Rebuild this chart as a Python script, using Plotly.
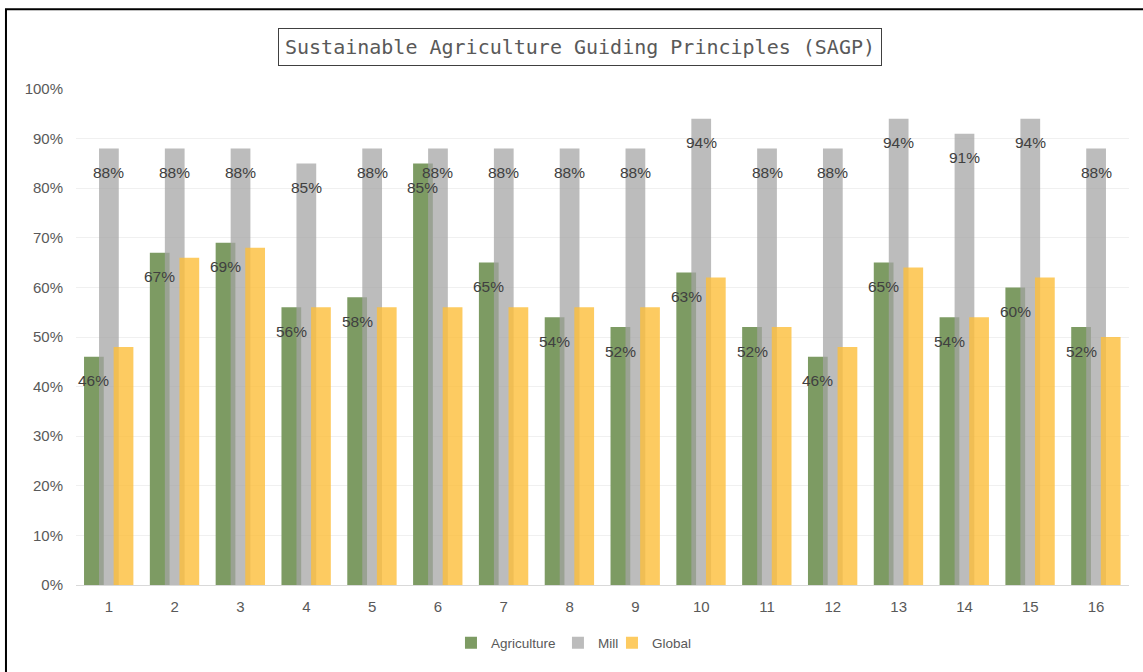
import plotly.graph_objects as go

categories = [str(i) for i in range(1, 17)]
agriculture = [46, 67, 69, 56, 58, 85, 65, 54, 52, 63, 52, 46, 65, 54, 60, 52]
mill = [88, 88, 88, 85, 88, 88, 88, 88, 88, 94, 88, 88, 94, 91, 94, 88]
global_ = [48, 66, 68, 56, 56, 56, 56, 56, 56, 62, 52, 48, 64, 54, 62, 50]

xpos = list(range(1, len(categories) + 1))
W = 0.30
shifts = {"Agriculture": -0.228, "Mill": 0.0, "Global": 0.222}
colors = {
    "Agriculture": "rgba(125,155,99,1)",
    "Mill": "rgba(165,165,165,0.74)",
    "Global": "rgba(253,190,57,0.8)",
}
legend_ids = {"Agriculture": "legend", "Mill": "legend2", "Global": "legend3"}
legend_x = {"legend": 0.3561, "legend2": 0.4577, "legend3": 0.5090}

fig = go.Figure()
for name, vals in [("Agriculture", agriculture), ("Mill", mill), ("Global", global_)]:
    fig.add_trace(go.Bar(
        x=xpos, y=vals, name=name, width=W, offset=shifts[name] - W / 2,
        marker=dict(color=colors[name], line=dict(width=0)),
        hoverinfo="skip", legend=legend_ids[name],
    ))

annotations = []
for name, vals in [("Agriculture", agriculture), ("Mill", mill)]:
    for x, v in zip(xpos, vals):
        annotations.append(dict(
            x=x + shifts[name], y=v, xref="x", yref="y", text=f"{v}%",
            showarrow=False, yshift=-24,
            font=dict(family="Liberation Sans, Arial", size=15.5, color="#404040"),
        ))

annotations.append(dict(
    x=0.4786, y=1.085, xref="paper", yref="paper", xanchor="center", yanchor="middle",
    text="Sustainable Agriculture Guiding Principles (SAGP)", showarrow=False,
    font=dict(family="DejaVu Sans Mono", size=20, color="#595959"),
    bordercolor="#404040", borderwidth=1, borderpad=6, bgcolor="white",
))

legend_common = dict(orientation="h", xanchor="left", y=-0.117, yanchor="middle",
                     font=dict(family="Liberation Sans, Arial", size=13.5, color="#595959"),
                     itemwidth=30, bgcolor="rgba(0,0,0,0)")

fig.update_layout(
    width=1143, height=672,
    margin=dict(l=76, r=14, t=89, b=87),
    paper_bgcolor="white", plot_bgcolor="white",
    barmode="overlay",
    showlegend=True,
    legend=dict(x=legend_x["legend"], **legend_common),
    legend2=dict(x=legend_x["legend2"], **legend_common),
    legend3=dict(x=legend_x["legend3"], **legend_common),
    annotations=annotations,
    shapes=[dict(type="rect", xref="paper", yref="paper",
                 x0=-0.0665, x1=1.03, y0=-0.3, y1=1.161,
                 line=dict(color="black", width=2), layer="above")],
    xaxis=dict(
        range=[0.5, 16.5], tickvals=xpos, ticktext=categories,
        showgrid=False, zeroline=False, showline=True, linecolor="#d9d9d9", linewidth=1,
        ticks="", ticklabelstandoff=8,
        tickfont=dict(family="Liberation Sans, Arial", size=15, color="#595959"),
    ),
    yaxis=dict(
        range=[0, 100], dtick=10, ticksuffix="%", showgrid=True, gridcolor="#f0f0f0",
        zeroline=False, showline=False, ticks="", ticklabelstandoff=12,
        tickfont=dict(family="Liberation Sans, Arial", size=15, color="#595959"),
    ),
)

fig.write_html("out.html")
